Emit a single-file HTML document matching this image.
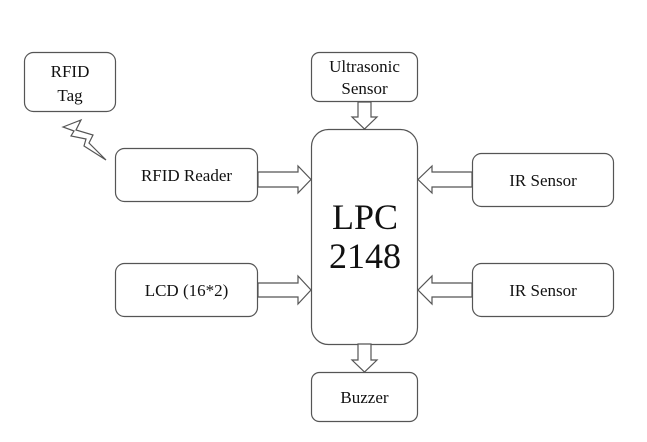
<!DOCTYPE html>
<html><head><style>
body{margin:0;background:#fff;}
svg{display:block}
</style></head><body>
<svg width="647" height="442" viewBox="0 0 647 442">
<g fill="#fff" stroke="#555" stroke-width="1.2">
<rect x="24.5" y="52.5" width="91" height="59" rx="9"/>
<rect x="311.5" y="52.5" width="106" height="49" rx="8"/>
<rect x="311.5" y="129.5" width="106" height="215" rx="17"/>
<rect x="115.5" y="148.5" width="142" height="53" rx="9"/>
<rect x="115.5" y="263.5" width="142" height="53" rx="9"/>
<rect x="472.5" y="153.5" width="141" height="53" rx="9"/>
<rect x="472.5" y="263.5" width="141" height="53" rx="9"/>
<rect x="311.5" y="372.5" width="106" height="49" rx="8"/>
<polygon points="258,172 298,172 298,166 311,179.5 298,193 298,187 258,187"/>
<polygon points="258,283 298,283 298,276 311,290 298,304 298,297 258,297"/>
<polygon points="472,172 432,172 432,166 418,179.5 432,193 432,187 472,187"/>
<polygon points="472,283 432,283 432,276 418,290 432,304 432,297 472,297"/>
<polygon points="358,102 371,102 371,117 377,117 364.5,129 352,117 358,117"/>
<polygon points="358,344 371,344 371,360 377,360 364.5,372 352,360 358,360"/>
<polygon points="63,127 81,120 76,130 93,135 89,143 106,160 84,146 86,139 71,136 74,131"/>
</g>
<g font-size="17" text-anchor="middle" font-family="'Liberation Serif', 'DejaVu Serif', serif" fill="#111">
<text x="70" y="77">RFID</text>
<text x="70" y="101">Tag</text>
<text x="364.5" y="72">Ultrasonic</text>
<text x="364.5" y="94">Sensor</text>
<text x="186.5" y="181">RFID Reader</text>
<text x="186.5" y="296">LCD (16*2)</text>
<text x="543" y="186">IR Sensor</text>
<text x="543" y="296">IR Sensor</text>
<text x="364.5" y="403">Buzzer</text>
<text x="365" y="229" font-size="36">LPC</text>
<text x="365" y="268" font-size="36">2148</text>
</g>
</svg>
</body></html>
